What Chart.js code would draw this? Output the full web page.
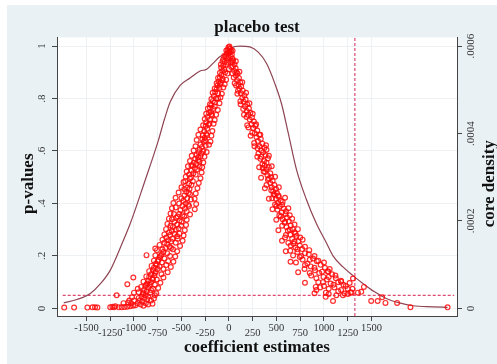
<!DOCTYPE html>
<html>
<head>
<meta charset="utf-8">
<title>placebo test</title>
<script src="https://cdn.jsdelivr.net/npm/chart.js@4.4.1/dist/chart.umd.min.js"></script>
<style>
  html, body { margin: 0; padding: 0; background: #fff; }
  canvas { display: block; }
</style>
</head>
<body>
<canvas id="grafico" width="497" height="364"></canvas>
<script>
// pontos [coeficiente, p-valor]
const leftArm = [
  [-5,0.995],[-15,0.985],[-25,0.97],[-10,0.975],[-35,0.96],[-20,0.955],[5,0.99],
  [-45,0.94],[-30,0.93],[-60,0.925],[-50,0.91],[-70,0.905],[-40,0.9],
  [-80,0.89],[-95,0.88],[-65,0.875],[-110,0.865],[-85,0.86],[-120,0.85],
  [-100,0.84],[-130,0.835],[-145,0.825],[-115,0.82],[-160,0.81],[-135,0.8],
  [-170,0.79],[-150,0.785],[-185,0.775],[-200,0.765],[-165,0.76],[-190,0.75],
  [-210,0.745],[-180,0.735],[-225,0.73],[-200,0.72],[-240,0.71],[-215,0.7],
  [-245,0.695],[-230,0.685],[-260,0.675],[-240,0.665],[-275,0.66],[-255,0.65],
  [-280,0.645],[-265,0.635],[-300,0.625],[-285,0.615],[-310,0.605],[-270,0.6],
  [-320,0.595],[-340,0.585],[-300,0.58],[-355,0.57],[-325,0.565],[-370,0.555],[-345,0.55],[-310,0.56],
  [-380,0.545],[-360,0.535],[-335,0.53],[-395,0.525],[-375,0.515],[-350,0.51],[-400,0.5],
  [-410,0.495],[-380,0.485],[-420,0.475],[-395,0.47],[-440,0.46],[-415,0.455],
  [-450,0.445],[-425,0.44],[-470,0.43],[-440,0.42],[-400,0.415],[-480,0.41],[-455,0.4],[-430,0.395],
  [-490,0.39],[-465,0.38],[-510,0.375],[-445,0.37],[-525,0.36],[-490,0.355],[-540,0.35],
  [-555,0.345],[-520,0.335],[-575,0.33],[-545,0.32],[-505,0.315],[-590,0.31],[-560,0.3],[-530,0.305],
  [-600,0.295],[-575,0.285],[-620,0.28],[-545,0.275],[-595,0.265],[-640,0.26],[-610,0.255],[-560,0.25],
  [-650,0.245],[-625,0.235],[-670,0.23],[-590,0.225],[-690,0.215],[-650,0.21],[-710,0.205],[-620,0.2],
  [-730,0.195],[-680,0.19],[-750,0.18],[-705,0.175],[-770,0.17],[-730,0.16],[-660,0.165],[-790,0.155],[-750,0.15],
  [-800,0.145],[-770,0.14],[-820,0.13],[-785,0.125],[-840,0.12],[-805,0.115],[-760,0.11],[-850,0.105],[-820,0.1],
  [-860,0.095],[-835,0.09],[-880,0.085],[-850,0.08],[-800,0.075],[-895,0.07],[-865,0.065],[-830,0.06],[-905,0.055],[-880,0.05],
  [-920,0.045],[-890,0.04],[-860,0.035],[-940,0.03],[-910,0.025],[-875,0.02],[-960,0.02],[-930,0.015],[-985,0.012],
  [-1010,0.01],[-1040,0.008],[-1070,0.006],[-1100,0.005],[-1130,0.004],[-1160,0.004]
];
const leftArmOuter = [
  [-28,0.983],[8,0.978],[-50,0.962],[-2,0.958],[-68,0.942],[-8,0.936],[-82,0.918],[0,0.912],
  [-95,0.898],[-15,0.895],[-115,0.878],[-30,0.872],[-130,0.858],[-45,0.854],[-150,0.838],[-60,0.842],
  [-172,0.822],[-75,0.818],[-185,0.798],[-90,0.804],[-200,0.778],[-100,0.782],[-222,0.762],[-118,0.756],
  [-240,0.742],[-135,0.738],[-255,0.722],[-150,0.718],[-272,0.698],[-162,0.704],[-300,0.682],[-175,0.676],
  [-322,0.662],[-185,0.658],[-340,0.642],[-195,0.636],[-352,0.618],[-210,0.624],[-372,0.602],[-235,0.596],
  [-392,0.582],[-258,0.578],[-410,0.562],[-270,0.556],[-432,0.542],[-282,0.538],[-445,0.522],[-288,0.518],
  [-455,0.502],[-300,0.496],[-478,0.482],[-318,0.478],[-500,0.462],[-332,0.458],[-530,0.442],[-350,0.438],
  [-562,0.422],[-362,0.418],[-585,0.402],[-345,0.398],[-600,0.382],[-360,0.378],[-615,0.362],[-410,0.358],
  [-632,0.342],[-445,0.338],[-648,0.322],[-452,0.318],[-662,0.302],[-465,0.298],[-680,0.282],[-478,0.278],
  [-700,0.262],[-488,0.258],[-730,0.242],[-515,0.238],[-758,0.222],[-545,0.218],[-775,0.202],[-565,0.198],
  [-790,0.182],[-585,0.178],[-815,0.162],[-612,0.158],[-840,0.142],[-645,0.138],[-870,0.122],[-690,0.118],
  [-900,0.102],[-722,0.098],[-925,0.082],[-745,0.078],[-950,0.062],[-765,0.058],[-1020,0.042],[-790,0.038],
  [-1060,0.022],[-805,0.018],
  [-60,0.95],[-85,0.93],[-70,0.87],[-95,0.855],[-115,0.8],[-150,0.77],[-185,0.74],[-205,0.705],[-230,0.66],
  [-250,0.64],[-245,0.62],[-290,0.59],[-325,0.575],[-310,0.54],[-395,0.545],[-420,0.51],[-460,0.485],
  [-470,0.455],[-410,0.435],[-500,0.42],[-525,0.4],[-560,0.385],[-420,0.39],[-580,0.36],[-470,0.35],
  [-600,0.34],[-500,0.33],[-615,0.315],[-630,0.29],[-520,0.285],[-660,0.27],[-540,0.265],[-680,0.25],
  [-700,0.225],[-610,0.23],[-720,0.2],[-740,0.185],[-640,0.18],[-760,0.165],[-690,0.15],[-780,0.135],
  [-710,0.13],[-800,0.11],[-870,0.09],[-780,0.09],[-820,0.07],[-900,0.06],[-850,0.045],[-780,0.05],
  [-820,0.03],[-900,0.01],[-850,0.015],[-950,0.04],[-1000,0.03],[-1030,0.02]
];
const leftTail = [
  [-1734,0.003],[-1630,0.003],[-1490,0.003],[-1437,0.004],[-1410,0.004],[-1385,0.003],[-1250,0.004],
  [-1227,0.006],[-1210,0.004],[-1196,0.008],[-1182,0.05],[-1070,0.092],[-1007,0.118],[-868,0.203],
  [-776,0.228],[-1000,0.06],[-960,0.075],[-1050,0.03],[-1110,0.02]
];
const rightArm = [
  [5,0.998],[12,0.99],[22,0.982],[8,0.975],[30,0.968],[18,0.96],[38,0.952],
  [45,0.945],[30,0.94],[58,0.93],[42,0.922],[70,0.915],[55,0.905],[80,0.9],
  [90,0.895],[72,0.888],[105,0.878],[85,0.87],[118,0.862],[100,0.852],
  [128,0.846],[110,0.838],[145,0.83],[125,0.82],[162,0.812],[140,0.802],
  [175,0.796],[155,0.788],[192,0.778],[170,0.77],[210,0.762],[188,0.752],
  [225,0.746],[200,0.738],[242,0.728],[218,0.72],[262,0.712],[238,0.702],
  [278,0.696],[255,0.688],[298,0.678],[272,0.668],[318,0.662],[290,0.652],
  [335,0.646],[305,0.638],[352,0.628],[322,0.618],[375,0.612],[340,0.602],[395,0.605],
  [360,0.595],[385,0.585],[340,0.578],[410,0.572],[370,0.562],[395,0.555],[352,0.55],
  [375,0.545],[420,0.538],[395,0.53],[365,0.522],[435,0.515],[405,0.508],[445,0.5],
  [420,0.495],[460,0.487],[435,0.478],[478,0.47],[450,0.462],[495,0.455],
  [465,0.446],[505,0.44],[480,0.432],[525,0.425],[495,0.418],[545,0.41],[515,0.402],[565,0.406],
  [485,0.396],[535,0.388],[575,0.381],[510,0.376],[555,0.366],[595,0.36],[530,0.355],
  [610,0.346],[565,0.34],[630,0.332],[585,0.326],[650,0.316],[605,0.31],[670,0.302],
  [620,0.296],[690,0.29],[645,0.281],[710,0.276],[590,0.27],[665,0.265],[730,0.256],[625,0.25],
  [680,0.246],[745,0.24],[700,0.232],[770,0.226],[645,0.22],[720,0.215],[800,0.21],[675,0.202],[840,0.206],
  [745,0.196],[885,0.19],[775,0.186],[925,0.18],[705,0.175],[825,0.171],[965,0.166],[860,0.16],[1010,0.155],[795,0.15],
  [905,0.145],[1045,0.14],[950,0.135],[1085,0.13],[865,0.125],[995,0.12],[1125,0.115],[1030,0.11],[1180,0.105],[940,0.1],
  [1070,0.095],[1205,0.09],[1000,0.085],[1110,0.08],[1250,0.075],[920,0.07],[1150,0.065],[1290,0.06],[1050,0.055],[1200,0.05]
];
const rightArmOuter = [
  [38,0.982],[2,0.976],[72,0.942],[18,0.938],[110,0.902],[35,0.896],[140,0.862],[60,0.858],
  [180,0.822],[88,0.818],[215,0.782],[122,0.778],[250,0.742],[158,0.738],[285,0.702],[192,0.698],
  [330,0.662],[228,0.658],[390,0.622],[268,0.618],[420,0.582],[298,0.578],[450,0.542],[318,0.538],
  [485,0.502],[338,0.498],[525,0.462],[378,0.458],[590,0.422],[420,0.418],[625,0.382],[458,0.378],
  [665,0.342],[498,0.338],[725,0.302],[520,0.298],[775,0.262],[558,0.258],[845,0.222],[598,0.218],
  [940,0.182],[648,0.178],[1040,0.142],[728,0.138],[1180,0.102],[800,0.098],[1280,0.062],[900,0.058],
  [25,0.92],[50,0.88],[75,0.85],[95,0.83],[120,0.79],[150,0.76],[185,0.73],[205,0.69],[245,0.67],
  [265,0.63],[300,0.61],[310,0.59],[330,0.57],[355,0.535],[380,0.52],[410,0.49],[395,0.47],[445,0.45],
  [470,0.435],[455,0.42],[520,0.43],[560,0.395],[500,0.39],[600,0.37],[545,0.35],[640,0.355],[590,0.33],
  [690,0.32],[560,0.315],[640,0.3],[700,0.285],[600,0.28],[750,0.27],[690,0.255],[650,0.24],[800,0.235],
  [720,0.225],[760,0.2],[900,0.2],[850,0.185],[1000,0.175],[800,0.165],[900,0.155],[1060,0.15],[980,0.14],
  [850,0.135],[1120,0.125],[920,0.115],[1050,0.12],[1150,0.1],[990,0.1],[1100,0.09],[1230,0.085],[960,0.08],
  [1050,0.075],[1180,0.07],[1300,0.075],[1130,0.05],[1020,0.06]
];
const rightTail = [
  [1305,0.114],[1270,0.097],[1357,0.06],[1392,0.063],[1420,0.082],[1217,0.057],[1252,0.055],
  [1095,0.028],[1018,0.044],[913,0.082],[1497,0.028],[1565,0.028],[1612,0.042],[1647,0.021],
  [1770,0.021],[1910,0.004],[2301,0.004]
];

// densidade kernel (eixo da direita)
const densX = [-1739, -1600, -1459, -1350, -1249, -1126, -1039, -890, -742, -680, -619, -514, -409, -304, -234, -165, -94, -42, 0,
  10, 63, 115, 220, 308, 396, 483, 553, 623, 710, 815, 920, 1025, 1095, 1200, 1305, 1410, 1532, 1655, 1794, 1934, 2144, 2301];
const densY = [0.0000126, 0.0000204, 0.0000342, 0.000057, 0.0000876, 0.000148, 0.000194, 0.000288, 0.000385, 0.000432, 0.000472,
  0.00051, 0.000527, 0.000543, 0.000547, 0.000561, 0.000576, 0.000581, 0.000583,
  0.00059, 0.000599, 0.0006, 0.000598, 0.000586, 0.00056, 0.000514, 0.000468, 0.000402, 0.000318, 0.000249, 0.000194,
  0.00015, 0.00012, 0.0000948, 0.000075, 0.000057, 0.0000378, 0.0000228, 0.0000126, 0.000006, 0.0000036, 0.0000024];

const xTicks = [-1500, -1250, -1000, -750, -500, -250, 0, 250, 500, 750, 1000, 1250, 1500];
const yTicks = [0, 0.2, 0.4, 0.6, 0.8, 1];
const yTickLabels = ['0', '.2', '.4', '.6', '.8', '1'];
const densTicks = [0, 0.0002, 0.0004, 0.0006];
const densTickLabels = ['0', '.0002', '.0004', '.0006'];
const pCut = 0.05;
const coefCut = 1325;

const xMin = -1810, xMax = 2400;
const yMin = -0.029, yMax = 1.033;

const serif = '"Liberation Serif", "Times New Roman", serif';

function toPoints(pairs) {
  return pairs.map(([x, y]) => ({ x, y }));
}

function eixoTitulo(ctx, text, x, y) {
  ctx.save();
  ctx.translate(x, y);
  ctx.rotate(-Math.PI / 2);
  ctx.font = 'bold 17px ' + serif;
  ctx.textAlign = 'center';
  ctx.textBaseline = 'middle';
  ctx.fillStyle = '#111';
  ctx.fillText(text, 0, 0);
  ctx.restore();
}

const fundo = {
  id: 'fundo',
  beforeDraw(chart) {
    const { ctx, chartArea: a } = chart;
    ctx.save();
    ctx.fillStyle = '#ffffff';
    ctx.fillRect(0, 0, chart.width, chart.height);
    ctx.fillStyle = '#e9f1f4';
    ctx.fillRect(7, 5, chart.width - 7, chart.height - 5);
    ctx.fillStyle = '#ffffff';
    ctx.fillRect(a.left, a.top, a.right - a.left, a.bottom - a.top);
    ctx.restore();
  },
  afterDraw(chart) {
    // titulos dos eixos verticais, lidos de baixo para cima
    const { ctx, chartArea: a } = chart;
    const meio = (a.top + a.bottom) / 2;
    eixoTitulo(ctx, 'p-values', 29, meio + 7);
    eixoTitulo(ctx, 'core density', 490, meio + 7);
  }
};

new Chart(document.getElementById('grafico'), {
  type: 'scatter',
  data: {
    datasets: [
      {
        data: toPoints(leftArm.concat(leftArmOuter, leftTail, rightArm, rightArmOuter, rightTail)),
        yAxisID: 'y',
        pointStyle: 'circle',
        pointRadius: 2.4,
        borderWidth: 1.2,
        borderColor: 'rgba(255, 10, 10, 0.85)',
        backgroundColor: 'rgba(0, 0, 0, 0)',
        order: 1
      },
      {
        data: densX.map((x, i) => ({ x, y: densY[i] })),
        yAxisID: 'y2',
        showLine: true,
        pointRadius: 0,
        borderColor: '#8e4452',
        borderWidth: 1.2,
        cubicInterpolationMode: 'monotone',
        order: 2
      },
      {
        data: [{ x: -1750, y: pCut }, { x: 2370, y: pCut }],
        yAxisID: 'y',
        showLine: true,
        pointRadius: 0,
        borderColor: '#dd4a72',
        borderWidth: 1.2,
        borderDash: [3, 2],
        order: 3
      },
      {
        data: [{ x: coefCut, y: yMin }, { x: coefCut, y: yMax }],
        yAxisID: 'y',
        showLine: true,
        pointRadius: 0,
        borderColor: '#dd4a72',
        borderWidth: 1.2,
        borderDash: [3, 2],
        order: 3
      }
    ]
  },
  options: {
    responsive: false,
    animation: false,
    devicePixelRatio: 1,
    layout: { padding: { top: 17, left: 0, right: 0, bottom: 0 } },
    plugins: {
      legend: { display: false },
      tooltip: { enabled: false },
      title: {
        display: true,
        text: 'placebo test',
        fullSize: false,
        color: '#111',
        font: { family: serif, size: 17, weight: 'bold' },
        padding: { top: 0, bottom: 0 }
      }
    },
    scales: {
      x: {
        type: 'linear',
        position: 'bottom',
        min: xMin,
        max: xMax,
        afterBuildTicks: s => { s.ticks = xTicks.map(v => ({ value: v })); },
        afterFit: s => { s.height = 48; },
        ticks: {
          autoSkip: false,
          maxRotation: 0,
          minRotation: 0,
          padding: 5,
          color: '#333',
          font: { family: serif, size: 10.5, lineHeight: '5px' },
          callback: (v, i) => (i % 2 ? ['', String(xTicks[i])] : String(xTicks[i]))
        },
        grid: { color: '#eef1f4', tickColor: '#444', tickLength: 5 },
        border: { color: '#444', width: 1 },
        title: {
          display: true,
          text: 'coefficient estimates',
          color: '#111',
          font: { family: serif, size: 17, weight: 'bold' },
          padding: { top: 0, bottom: 6 }
        }
      },
      y: {
        type: 'linear',
        position: 'left',
        min: yMin,
        max: yMax,
        afterBuildTicks: s => { s.ticks = yTicks.map(v => ({ value: v })); },
        afterFit: s => { s.width = 57; },
        ticks: {
          minRotation: 90,
          maxRotation: 90,
          crossAlign: 'center',
          padding: 6,
          color: '#333',
          font: { family: serif, size: 11 },
          callback: (v, i) => yTickLabels[i]
        },
        grid: { color: '#eef1f4', tickColor: '#444', tickLength: 5 },
        border: { color: '#444', width: 1 }
      },
      y2: {
        type: 'linear',
        position: 'right',
        min: yMin * 0.0006,
        max: yMax * 0.0006,
        afterBuildTicks: s => { s.ticks = densTicks.map(v => ({ value: v })); },
        afterFit: s => { s.width = 40; },
        ticks: {
          minRotation: 90,
          maxRotation: 90,
          crossAlign: 'center',
          padding: -3,
          color: '#333',
          font: { family: serif, size: 11 },
          callback: (v, i) => densTickLabels[i]
        },
        grid: { drawOnChartArea: false, tickColor: '#444', tickLength: 5 },
        border: { color: '#444', width: 1 }
      }
    }
  },
  plugins: [fundo]
});
</script>
</body>
</html>
